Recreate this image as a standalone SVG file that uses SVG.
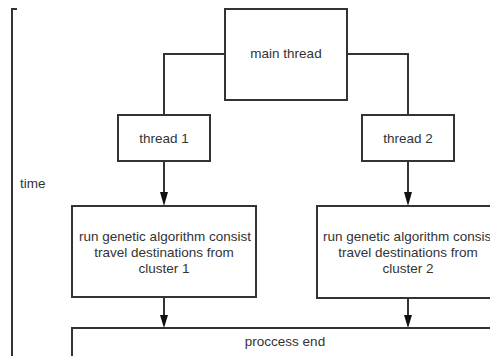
<svg xmlns="http://www.w3.org/2000/svg" width="490" height="356" viewBox="0 0 490 356">
<defs>
<style>
.box{fill:#fff;stroke:#333;stroke-width:2}
.ln{fill:none;stroke:#333;stroke-width:2}
.t{font-family:"Liberation Sans",Arial,sans-serif;font-size:13.5px;fill:#333;text-anchor:middle}
</style>
<marker id="ah" markerWidth="8" markerHeight="14" refX="4" refY="13" orient="auto-start-reverse" markerUnits="userSpaceOnUse" viewBox="0 0 8 14">
<path d="M0,0 L8,0 L4,14 Z" fill="#111"/>
</marker>
</defs>
<rect width="490" height="356" fill="#fff"/>
<g id="timeline">
<path class="ln" d="M17,9 L12,9 L12,356"/>
<text class="t" x="20" y="188" style="text-anchor:start">time</text>
</g>
<g id="connectors">
<path class="ln" d="M225,54 L164,54 L164,115"/>
<path class="ln" d="M347,54 L408,54 L408,115"/>
<line class="ln" x1="164" y1="161" x2="164" y2="192"/>
<path d="M160,192 L168,192 L164,206 Z" fill="#111"/>
<line class="ln" x1="408" y1="161" x2="408" y2="192"/>
<path d="M404,192 L412,192 L408,206 Z" fill="#111"/>
<line class="ln" x1="164" y1="297" x2="164" y2="315"/>
<path d="M160,315 L168,315 L164,328 Z" fill="#111"/>
<line class="ln" x1="408" y1="298" x2="408" y2="315"/>
<path d="M404,315 L412,315 L408,328 Z" fill="#111"/>
</g>
<g id="main-thread">
<rect class="box" x="225" y="9" width="122" height="91"/>
<text class="t" x="286" y="58">main thread</text>
</g>
<g id="thread-1">
<rect class="box" x="118" y="115" width="92" height="46"/>
<text class="t" x="164" y="143">thread 1</text>
</g>
<g id="thread-2">
<rect class="box" x="362" y="115" width="92" height="46"/>
<text class="t" x="408" y="143">thread 2</text>
</g>
<g id="run-1">
<rect class="box" x="72" y="206" width="184" height="91"/>
<text class="t" x="165" y="241">run genetic algorithm consist</text>
<text class="t" x="164" y="257">travel destinations from</text>
<text class="t" x="164" y="273">cluster 1</text>
</g>
<g id="run-2">
<rect class="box" x="317" y="206" width="184" height="92"/>
<text class="t" x="409" y="241">run genetic algorithm consist</text>
<text class="t" x="408" y="257">travel destinations from</text>
<text class="t" x="408" y="273">cluster 2</text>
</g>
<g id="process-end">
<rect class="box" x="72" y="328" width="428" height="40"/>
<text class="t" x="285" y="346">proccess end</text>
</g>
</svg>
